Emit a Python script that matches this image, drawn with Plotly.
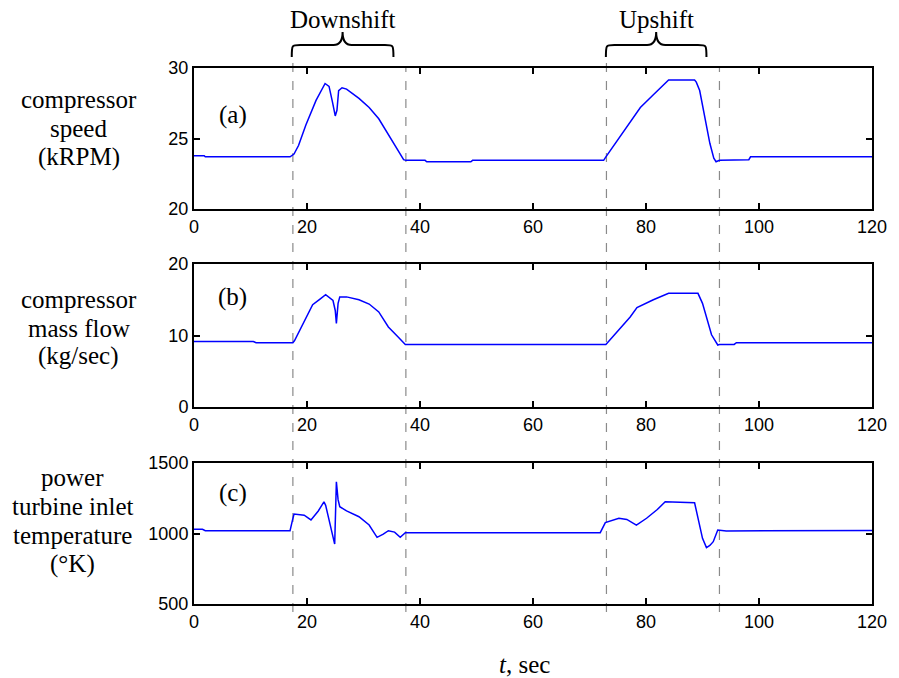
import plotly.graph_objects as go

# ---------------- data ----------------
t_speed = [0, 1.8, 2.0, 17.0, 17.7, 18.5, 19.8, 21.6, 23.2, 23.9, 24.5, 25.0, 25.3, 25.6, 26.2,
           27.0, 29.2, 31.0, 32.7, 35.0, 37.1, 37.5, 40.9, 41.2, 49.0, 49.3, 72.5, 72.9, 76.0,
           79.0, 81.3, 84.0, 88.6, 88.9, 89.5, 90.4, 91.3, 92.0, 92.4, 93.0, 98.2, 98.5, 120]
speed = [23.78, 23.78, 23.7, 23.7, 23.9, 24.5, 25.96, 27.7, 28.9, 28.7, 27.6, 26.6, 27.0, 28.4, 28.6,
         28.5, 27.85, 27.2, 26.4, 24.9, 23.5, 23.45, 23.45, 23.35, 23.35, 23.45, 23.45, 23.7, 25.5,
         27.2, 28.1, 29.15, 29.15, 29.0, 28.4, 26.55, 24.66, 23.6, 23.35, 23.45, 23.5, 23.7, 23.7]

t_flow = [0, 10.5, 11.0, 17.5, 17.8, 18.8, 19.8, 21.0, 22.3, 23.3, 24.6, 25.0, 25.2, 25.5, 25.8,
          27.0, 29.2, 31.0, 32.7, 34.4, 36.0, 37.4, 72.9, 77.2, 78.4, 81.3, 84.0, 89.2, 90.0,
          90.7, 91.6, 92.7, 93.0, 95.6, 96.0, 120]
flow = [9.15, 9.15, 9.0, 9.0, 9.3, 10.9, 12.4, 14.3, 15.1, 15.7, 14.9, 13.5, 11.7, 14.5, 15.4,
        15.4, 15.0, 14.4, 13.3, 11.2, 9.9, 8.75, 8.75, 12.6, 13.9, 15.0, 15.9, 15.9, 14.5,
        12.6, 10.1, 8.67, 8.75, 8.75, 9.0, 9.0]

t_temp = [0, 1.5, 2.0, 17.0, 17.4, 17.7, 19.5, 20.7, 22.0, 23.0, 23.3, 24.9, 25.2, 25.5, 25.8,
          27.0, 29.2, 31.0, 32.4, 33.5, 34.4, 35.5, 36.5, 37.4, 71.9, 72.4, 72.8, 75.2, 76.6,
          78.3, 80.1, 82.0, 83.4, 88.6, 89.2, 90.0, 90.7, 91.3, 91.9, 92.7, 94.2, 120]
temp = [1030, 1030, 1020, 1020, 1090, 1138, 1130, 1096, 1160, 1225, 1200, 925, 1367, 1240, 1190,
        1160, 1119, 1060, 973, 995, 1020, 1010, 973, 1006, 1006, 1040, 1077, 1108, 1100,
        1060, 1108, 1170, 1225, 1218, 1119, 966, 900, 915, 942, 1025, 1018, 1022]

x_ticks = [0, 20, 40, 60, 80, 100, 120]
speed_ticks = [20, 25, 30]
flow_ticks = [0, 10, 20]
temp_ticks = [500, 1000, 1500]

shift_lines = [17.5, 37.5, 73.0, 93.0]       # dashed event markers
shift_names = ["Downshift", "Upshift"]
shift_spans = [(17.3, 35.3), (72.9, 90.7)]  # brace extents

# ---------------- layout helpers ----------------
# the page body has an 8px default margin, so the figure is 8px smaller
OFF = 8
W, H = 899 - OFF, 678 - OFF
L, R, T, B = 194 - OFF, 22, 68 - OFF, 74
PW, PH = W - L - R, H - T - B


def px2x(px):
    # px: pixel position in the 899x678 window
    return (px - OFF - L) / PW


def py2y(py):
    return (H - B - (py - OFF)) / PH


fig = go.Figure()
line_style = dict(color="#0000FF", width=1.5)
fig.add_trace(go.Scatter(x=t_speed, y=speed, mode="lines", line=line_style, xaxis="x", yaxis="y"))
fig.add_trace(go.Scatter(x=t_flow, y=flow, mode="lines", line=line_style, xaxis="x2", yaxis="y2"))
fig.add_trace(go.Scatter(x=t_temp, y=temp, mode="lines", line=line_style, xaxis="x3", yaxis="y3"))

tickfont = dict(family="Liberation Sans, Arial, sans-serif", size=18, color="black")
ax_common = dict(showline=True, linecolor="black", linewidth=2, mirror="ticks",
                 ticks="inside", ticklen=6, tickwidth=1.5, tickcolor="black",
                 showgrid=False, zeroline=False, tickfont=tickfont)

fig.update_layout(
    width=W, height=H,
    margin=dict(l=L, r=R, t=T, b=B),
    paper_bgcolor="white", plot_bgcolor="rgba(0,0,0,0)",
    showlegend=False,
    xaxis=dict(domain=[0, 1], range=[0, 120], tickvals=x_ticks, anchor="y", **ax_common),
    xaxis2=dict(domain=[0, 1], range=[0, 120], tickvals=x_ticks, anchor="y2", **ax_common),
    xaxis3=dict(domain=[0, 1], range=[0, 120], tickvals=x_ticks, anchor="y3", **ax_common),
    yaxis=dict(domain=[py2y(209), py2y(68)], range=[20, 30], tickvals=speed_ticks, anchor="x", **ax_common),
    yaxis2=dict(domain=[py2y(407), py2y(264)], range=[0, 20], tickvals=flow_ticks, anchor="x2", **ax_common),
    yaxis3=dict(domain=[py2y(604), py2y(463)], range=[500, 1500], tickvals=temp_ticks, anchor="x3", **ax_common),
)

# dashed markers
shapes = []
for i, xv in enumerate(shift_lines):
    top = py2y(57) if i in (0, 2) else py2y(68)
    shapes.append(dict(type="line", xref="x", yref="paper", x0=xv, x1=xv,
                       y0=py2y(612), y1=top, layer="below",
                       line=dict(color="#8a8a8a", width=1.2, dash="dash")))

# curly braces
yb, yl, yt = py2y(57), py2y(45), py2y(32)
r_end, r_mid = 1.5, 1.6
for (x0, x1) in shift_spans:
    m = (x0 + x1) / 2
    path = (f"M {x0},{yb} C {x0},{yl} {x0},{yl} {x0 + r_end},{yl} L {m - r_mid},{yl} "
            f"Q {m},{yl} {m},{yt} Q {m},{yl} {m + r_mid},{yl} L {x1 - r_end},{yl} "
            f"C {x1},{yl} {x1},{yl} {x1},{yb}")
    shapes.append(dict(type="path", xref="x", yref="paper", path=path,
                       line=dict(color="black", width=2)))
fig.update_layout(shapes=shapes)

serif = dict(family="Liberation Serif, Times New Roman, serif", size=25, color="black")
ann = []
for name, (x0, x1) in zip(shift_names, shift_spans):
    ann.append(dict(xref="x", yref="paper", x=(x0 + x1) / 2, y=py2y(20), text=name,
                    showarrow=False, font=serif, xanchor="center", yanchor="middle", borderpad=0))

for txt, py in [("(a)", 115), ("(b)", 297), ("(c)", 493)]:
    ann.append(dict(xref="paper", yref="paper", x=px2x(233), y=py2y(py), text=txt,
                    showarrow=False, font=serif, xanchor="center", yanchor="middle"))

label_lines = [
    (78, [("compressor", 99), ("speed", 128), ("(kRPM)", 157)]),
    (78, [("compressor", 299), ("mass flow", 328), ("(kg/sec)", 356)]),
    (72, [("power", 477), ("turbine inlet", 506), ("temperature", 535), ("(°K)", 564)]),
]
for cx, lines in label_lines:
    for txt, py in lines:
        ann.append(dict(xref="paper", yref="paper", x=px2x(cx), y=py2y(py), text=txt,
                        showarrow=False, font=serif, xanchor="center", yanchor="middle"))

ann.append(dict(xref="paper", yref="paper", x=px2x(527), y=py2y(664), text="<i>t</i>, sec",
                showarrow=False, font=serif, xanchor="center", yanchor="middle"))
fig.update_layout(annotations=ann)

fig.write_html("out.html")
